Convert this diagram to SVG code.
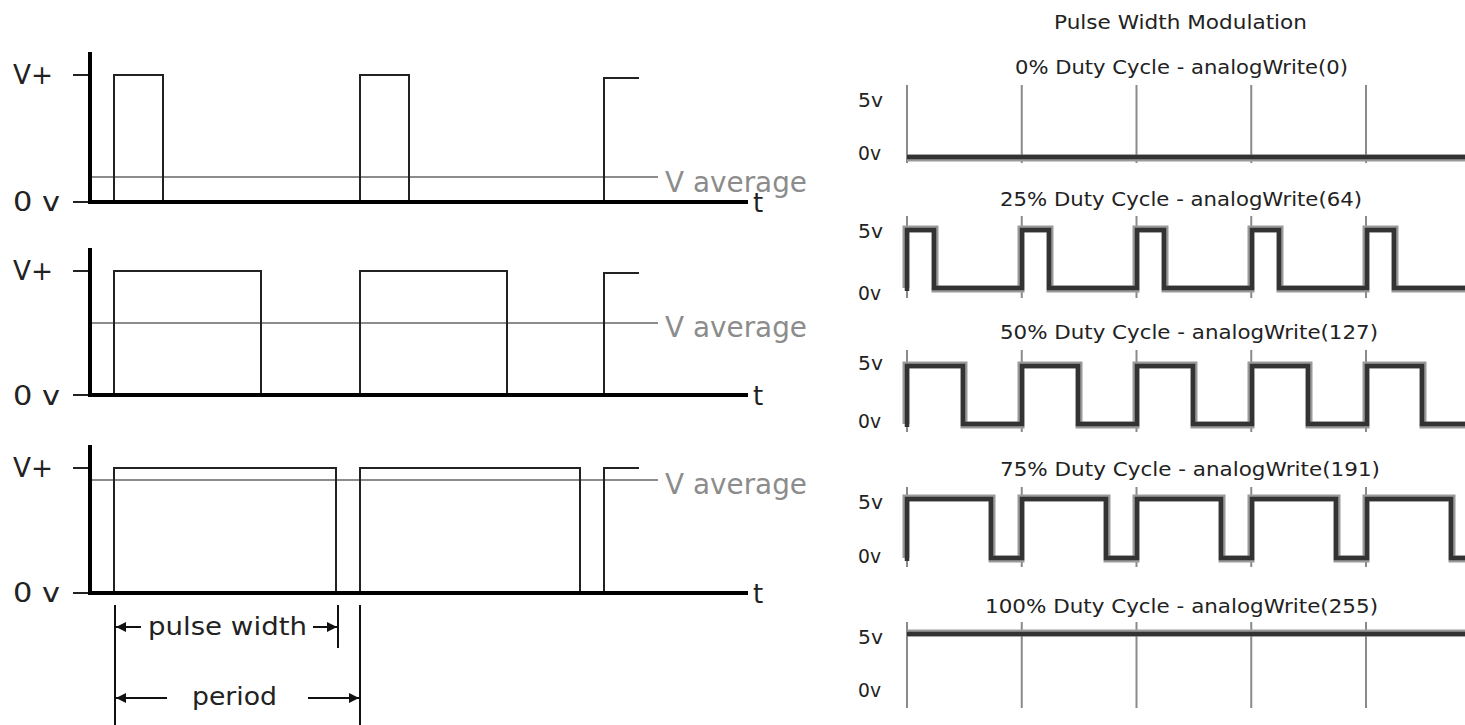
<svg xmlns="http://www.w3.org/2000/svg" width="1465" height="725" viewBox="0 0 1465 725">
<style>
.axis{stroke:#000;stroke-width:4;fill:none}
.tick{stroke:#222;stroke-width:2;fill:none}
.wave{stroke:#222;stroke-width:2;fill:none}
.avg{stroke:#8c8c8c;stroke-width:2;fill:none}
.lbl{font-family:"DejaVu Sans","Liberation Sans",sans-serif;font-size:26px;fill:#222}
.avgt{font-family:"DejaVu Sans","Liberation Sans",sans-serif;font-size:28px;fill:#8c8c8c}
.dim{font-family:"DejaVu Sans","Liberation Sans",sans-serif;font-size:25px;fill:#222}
.dimline{stroke:#111;stroke-width:2;fill:none}
.grid{stroke:#8a8a8a;stroke-width:2;fill:none}
.pw{stroke:#333;stroke-width:4.5;fill:none;stroke-linejoin:miter}
.pwsh{stroke:#9a9a9a;stroke-width:7;fill:none;stroke-linejoin:miter}
.rt{font-family:"DejaVu Sans","Liberation Sans",sans-serif;font-size:19px;fill:#222}
.rl{font-family:"DejaVu Sans","Liberation Sans",sans-serif;font-size:19px;fill:#222}
</style>
<defs>
<marker id="ah" viewBox="0 0 10 10" refX="10" refY="5" markerWidth="5" markerHeight="5" orient="auto-start-reverse" markerUnits="strokeWidth">
<path d="M0,0 L10,5 L0,10 z" fill="#111"/>
</marker>
</defs>

<g id="chart1">
<line class="tick" x1="73" y1="75" x2="90" y2="75"/>
<line class="tick" x1="73" y1="202" x2="90" y2="202"/>
<line class="avg" x1="90" y1="177" x2="658" y2="177"/>
<path class="wave" d="M114,202 V75 H163 V202 M360,202 V75 H409 V202 M604,202 V78 H639"/>
<line class="axis" x1="90" y1="52" x2="90" y2="204"/>
<line class="axis" x1="90" y1="202" x2="748" y2="202"/>
<text class="lbl" x="13" y="84" textLength="40" lengthAdjust="spacingAndGlyphs">V+</text>
<text class="lbl" x="13" y="211" textLength="47" lengthAdjust="spacingAndGlyphs">0 v</text>
<text class="avgt" x="665" y="192" textLength="142" lengthAdjust="spacingAndGlyphs">V average</text>
<text class="lbl" x="753" y="212" font-size="27">t</text>
</g>

<g id="chart2">
<line class="tick" x1="73" y1="271" x2="90" y2="271"/>
<line class="tick" x1="73" y1="395" x2="90" y2="395"/>
<line class="avg" x1="90" y1="323" x2="658" y2="323"/>
<path class="wave" d="M114,395 V271 H261 V395 M360,395 V271 H507 V395 M604,395 V273 H639"/>
<line class="axis" x1="90" y1="248" x2="90" y2="397"/>
<line class="axis" x1="90" y1="395" x2="748" y2="395"/>
<text class="lbl" x="13" y="280" textLength="40" lengthAdjust="spacingAndGlyphs">V+</text>
<text class="lbl" x="13" y="405" textLength="47" lengthAdjust="spacingAndGlyphs">0 v</text>
<text class="avgt" x="665" y="337" textLength="142" lengthAdjust="spacingAndGlyphs">V average</text>
<text class="lbl" x="753" y="405" font-size="27">t</text>
</g>

<g id="chart3">
<line class="tick" x1="73" y1="468" x2="90" y2="468"/>
<line class="tick" x1="73" y1="593" x2="90" y2="593"/>
<line class="avg" x1="90" y1="480" x2="658" y2="480"/>
<path class="wave" d="M114,593 V468 H336 V593 M360,593 V468 H580 V593 M604,593 V468 H639"/>
<line class="axis" x1="90" y1="445" x2="90" y2="595"/>
<line class="axis" x1="90" y1="593" x2="748" y2="593"/>
<text class="lbl" x="13" y="477" textLength="40" lengthAdjust="spacingAndGlyphs">V+</text>
<text class="lbl" x="13" y="602" textLength="47" lengthAdjust="spacingAndGlyphs">0 v</text>
<text class="avgt" x="665" y="494" textLength="142" lengthAdjust="spacingAndGlyphs">V average</text>
<text class="lbl" x="753" y="603" font-size="27">t</text>
</g>

<g id="connectors">
<line class="dimline" x1="115" y1="605" x2="115" y2="725"/>
<line class="dimline" x1="338" y1="605" x2="338" y2="648"/>
<line class="dimline" x1="360" y1="605" x2="360" y2="725"/>
<line class="dimline" x1="141" y1="627" x2="116" y2="627" marker-end="url(#ah)"/>
<line class="dimline" x1="313" y1="627" x2="337" y2="627" marker-end="url(#ah)"/>
<line class="dimline" x1="167" y1="698" x2="116" y2="698" marker-end="url(#ah)"/>
<line class="dimline" x1="308" y1="698" x2="359" y2="698" marker-end="url(#ah)"/>
</g>
<g id="dim-labels">
<text class="dim" x="148" y="635" textLength="159" lengthAdjust="spacingAndGlyphs">pulse width</text>
<text class="dim" x="192" y="705" textLength="85" lengthAdjust="spacingAndGlyphs">period</text>
</g>

<g id="title">
<text class="rt" x="1054" y="29" textLength="253" lengthAdjust="spacingAndGlyphs">Pulse Width Modulation</text>
</g>

<g id="pwm0">
<text class="rt" x="1015" y="74" textLength="333" lengthAdjust="spacingAndGlyphs">0% Duty Cycle - analogWrite(0)</text>
<text class="rl" x="858" y="107" textLength="25" lengthAdjust="spacingAndGlyphs">5v</text>
<text class="rl" x="858" y="160" textLength="23" lengthAdjust="spacingAndGlyphs">0v</text>
<path class="grid" d="M907,85 V163 M1021.75,85 V163 M1136.5,85 V163 M1251.25,85 V163 M1366,85 V163"/>
<path class="pwsh" d="M907,158 H1465"/>
<path class="pw" d="M907,157 H1465"/>
</g>

<g id="pwm25">
<text class="rt" x="1000" y="206" textLength="362" lengthAdjust="spacingAndGlyphs">25% Duty Cycle - analogWrite(64)</text>
<text class="rl" x="858" y="238" textLength="25" lengthAdjust="spacingAndGlyphs">5v</text>
<text class="rl" x="858" y="300" textLength="23" lengthAdjust="spacingAndGlyphs">0v</text>
<path class="grid" d="M907,216 V298 M1021.75,216 V298 M1136.5,216 V298 M1251.25,216 V298 M1366,216 V298"/>
<path class="pwsh" d="M906,288 V229 H935 V289 H1021 V229 H1050 V289 H1136 V229 H1165 V289 H1251 V229 H1280 V289 H1366 V229 H1395 V289 H1465"/>
<path class="pw" d="M907,291 V230 H934 V288 H1022 V230 H1049 V288 H1137 V230 H1164 V288 H1252 V230 H1279 V288 H1367 V230 H1394 V288 H1465"/>
</g>

<g id="pwm50">
<text class="rt" x="1000" y="339" textLength="378" lengthAdjust="spacingAndGlyphs">50% Duty Cycle - analogWrite(127)</text>
<text class="rl" x="858" y="370" textLength="25" lengthAdjust="spacingAndGlyphs">5v</text>
<text class="rl" x="858" y="428" textLength="23" lengthAdjust="spacingAndGlyphs">0v</text>
<path class="grid" d="M907,350 V432 M1021.75,350 V432 M1136.5,350 V432 M1251.25,350 V432 M1366,350 V432"/>
<path class="pwsh" d="M906,424 V365 H964 V425 H1021 V365 H1079 V425 H1136 V365 H1194 V425 H1251 V365 H1309 V425 H1366 V365 H1423 V425 H1465"/>
<path class="pw" d="M907,427 V366 H963 V424 H1022 V366 H1078 V424 H1137 V366 H1193 V424 H1252 V366 H1308 V424 H1367 V366 H1422 V424 H1465"/>
</g>

<g id="pwm75">
<text class="rt" x="1000" y="476" textLength="380" lengthAdjust="spacingAndGlyphs">75% Duty Cycle - analogWrite(191)</text>
<text class="rl" x="858" y="509" textLength="25" lengthAdjust="spacingAndGlyphs">5v</text>
<text class="rl" x="858" y="563" textLength="23" lengthAdjust="spacingAndGlyphs">0v</text>
<path class="grid" d="M907,487 V567 M1021.75,487 V567 M1136.5,487 V567 M1251.25,487 V567 M1366,487 V567"/>
<path class="pwsh" d="M906,558 V498 H992 V559 H1021 V498 H1107 V559 H1136 V498 H1222 V559 H1251 V498 H1337 V559 H1366 V498 H1452 V559 H1465"/>
<path class="pw" d="M907,561 V499 H991 V558 H1022 V499 H1106 V558 H1137 V499 H1221 V558 H1252 V499 H1336 V558 H1367 V499 H1451 V558 H1465"/>
</g>

<g id="pwm100">
<text class="rt" x="985" y="613" textLength="393" lengthAdjust="spacingAndGlyphs">100% Duty Cycle - analogWrite(255)</text>
<text class="rl" x="858" y="644" textLength="25" lengthAdjust="spacingAndGlyphs">5v</text>
<text class="rl" x="858" y="697" textLength="23" lengthAdjust="spacingAndGlyphs">0v</text>
<path class="grid" d="M907,622 V708 M1021.75,622 V708 M1136.5,622 V708 M1251.25,622 V708 M1366,622 V708"/>
<path class="pwsh" d="M907,633 H1465"/>
<path class="pw" d="M907,634 H1465"/>
</g>
</svg>
